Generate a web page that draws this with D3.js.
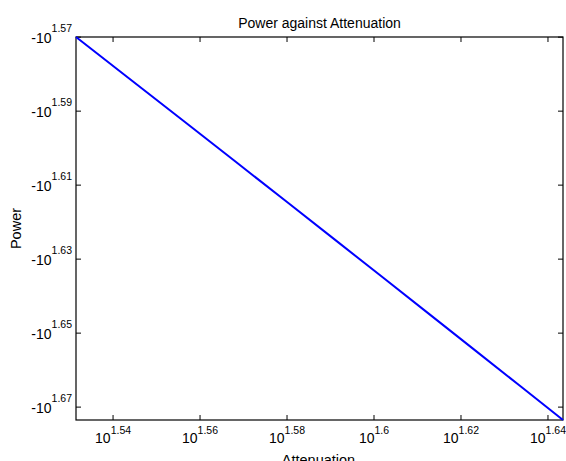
<!DOCTYPE html>
<html>
<head>
<meta charset="utf-8">
<script src="https://cdn.jsdelivr.net/npm/d3@7"></script>
<style>
  body { margin: 0; background: #fff; }
  svg { font-family: "Liberation Sans", Arial, sans-serif; }
</style>
</head>
<body>
<svg id="chart" width="566" height="461"></svg>
<script>
// data
var attenuation = [34, 35, 36, 37, 38, 39, 40, 41, 42, 43, 44];
var power = [-37.15, -38.15, -39.15, -40.15, -41.15, -42.15, -43.15, -44.15, -45.15, -46.15, -47.15];
var xTickExp = ['1.54', '1.56', '1.58', '1.6', '1.62', '1.64'];
var yTickExp = ['1.57', '1.59', '1.61', '1.63', '1.65', '1.67'];

var svg = d3.select('#chart');
// plot box (window.top is reserved, so own names)
var pL = 76, pR = 563, pT = 37, pB = 420;

var x = d3.scaleLog().domain([34, 44]).range([pL, pR]);
var y = d3.scaleLog().domain([-37.15, -47.15]).range([pT, pB]);

// box
svg.append('rect')
  .attr('x', pL).attr('y', pT)
  .attr('width', pR - pL).attr('height', pB - pT)
  .attr('fill', '#fff').attr('stroke', '#000').attr('stroke-width', 1.2);

// x ticks (inward, bottom and top)
xTickExp.forEach(function (e) {
  var px = x(Math.pow(10, +e));
  svg.append('line').attr('x1', px).attr('x2', px).attr('y1', pB).attr('y2', pB - 5)
    .attr('stroke', '#000');
  svg.append('line').attr('x1', px).attr('x2', px).attr('y1', pT).attr('y2', pT + 5)
    .attr('stroke', '#000');
  var t = svg.append('text').attr('x', px).attr('y', 443)
    .attr('text-anchor', 'middle').attr('font-size', 14).attr('fill', '#000');
  t.append('tspan').text('10');
  t.append('tspan').attr('font-size', 10.5).attr('dy', -9).text(e);
});

// y ticks
yTickExp.forEach(function (e) {
  var py = y(-Math.pow(10, +e));
  svg.append('line').attr('x1', pL).attr('x2', pL + 5).attr('y1', py).attr('y2', py)
    .attr('stroke', '#000');
  svg.append('line').attr('x1', pR).attr('x2', pR - 5).attr('y1', py).attr('y2', py)
    .attr('stroke', '#000');
  var t = svg.append('text').attr('x', 72).attr('y', py + 6)
    .attr('text-anchor', 'end').attr('font-size', 14).attr('fill', '#000');
  t.append('tspan').text('-10');
  t.append('tspan').attr('font-size', 10.5).attr('dy', -11).text(e);
});

// line
var line = d3.line()
  .x(function (d, i) { return x(attenuation[i]); })
  .y(function (d) { return y(d); });

svg.append('path')
  .datum(power)
  .attr('d', line)
  .attr('fill', 'none')
  .attr('stroke', '#0000ff')
  .attr('stroke-width', 2);

// labels
svg.append('text').attr('x', (pL + pR) / 2).attr('y', 28)
  .attr('text-anchor', 'middle').attr('font-size', 14).text('Power against Attenuation');
svg.append('text').attr('x', (pL + pR) / 2 - 1).attr('y', 465)
  .attr('text-anchor', 'middle').attr('font-size', 14.5).text('Attenuation');
svg.append('text')
  .attr('transform', 'translate(21,' + ((pT + pB) / 2) + ') rotate(-90)')
  .attr('text-anchor', 'middle').attr('font-size', 14.5).text('Power');
</script>
</body>
</html>
